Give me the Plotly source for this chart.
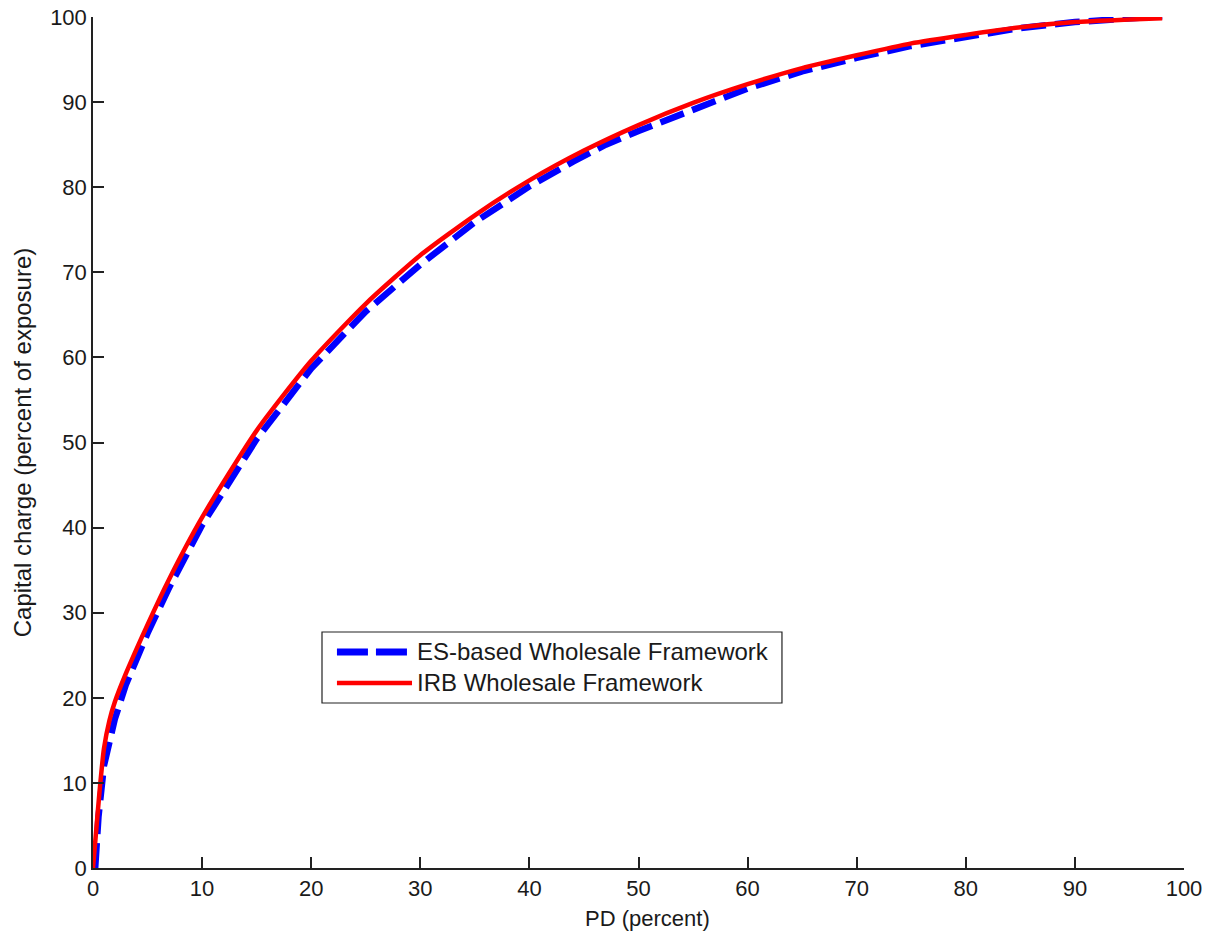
import plotly.graph_objects as go

# IRB Wholesale Framework (red, solid)
irb_pd = [0, 0.3, 0.6, 1, 1.5, 2, 3, 5, 7, 10, 15, 20, 25, 30, 35, 40, 45, 50,
          55, 60, 65, 70, 75, 80, 85, 90, 95, 98]
irb_cc = [0, 4.5, 9, 14, 17.3, 19.5, 22.8, 28.6, 34.0, 41.2, 51.4, 59.6, 66.3, 72.0,
          76.7, 80.8, 84.3, 87.3, 89.9, 92.1, 94.0, 95.5, 96.9, 97.9, 98.8, 99.4,
          99.7, 99.85]

# ES-based Wholesale Framework (blue, dashed)
es_pd = [0.2, 0.5, 1, 2, 3, 5, 7, 10, 15, 20, 25, 30, 35, 40, 44, 47, 50, 55,
         60, 65, 70, 75, 80, 85, 90, 95, 98]
es_cc = [0, 6, 12, 17.5, 21.5, 27.6, 33.0, 40.3, 50.4, 58.7, 65.4, 70.9, 75.9,
         80.1, 83.0, 85.0, 86.6, 89.2, 91.6, 93.6, 95.2, 96.6, 97.7, 98.7, 99.4,
         99.9, 100.1]

x_ticks = [0, 10, 20, 30, 40, 50, 60, 70, 80, 90, 100]
y_ticks = [0, 10, 20, 30, 40, 50, 60, 70, 80, 90, 100]

legend_names = ["ES-based Wholesale Framework", "IRB Wholesale Framework"]
x_title = "PD (percent)"
y_title = "Capital charge (percent of exposure)"

FONT = "Liberation Sans, Arial, sans-serif"
TXT = "#1a1a1a"
BLUE = "#0000ff"
RED = "#ff0000"

fig = go.Figure()
fig.add_trace(go.Scatter(x=es_pd, y=es_cc, mode="lines", name=legend_names[0],
                         line=dict(color=BLUE, width=6.5, dash="25px,9px"),
                         showlegend=False))
fig.add_trace(go.Scatter(x=irb_pd, y=irb_cc, mode="lines", name=legend_names[1],
                         line=dict(color=RED, width=4.5, shape="spline", smoothing=0.6),
                         showlegend=False))

axis_common = dict(
    showgrid=False, zeroline=False, showline=True, linecolor="#222", linewidth=1.5,
    ticks="inside", ticklen=11, tickwidth=1.5, tickcolor="#222",
    tickfont=dict(family=FONT, size=22, color=TXT),
    mirror=False, fixedrange=True,
)

fig.update_xaxes(range=[0, 100], tickvals=x_ticks, **axis_common)
fig.update_yaxes(range=[0, 100], tickvals=y_ticks, **axis_common,
                 title=dict(text=y_title,
                            font=dict(family=FONT, size=24, color=TXT), standoff=12))

# manual legend (paper coordinates)
lx0, lx1 = 0.2099, 0.6315
ly0, ly1 = 0.1939, 0.2773
shapes = [
    dict(type="rect", xref="paper", yref="paper", x0=lx0, x1=lx1, y0=ly0, y1=ly1,
         line=dict(color="#222", width=1.2), fillcolor="white", layer="above"),
    dict(type="line", xref="paper", yref="paper", x0=0.2236, x1=0.2878, y0=0.2538, y1=0.2538,
         line=dict(color=BLUE, width=7, dash="31px,8px"), layer="above"),
    dict(type="line", xref="paper", yref="paper", x0=0.2236, x1=0.2924, y0=0.2174, y1=0.2174,
         line=dict(color=RED, width=4.5), layer="above"),
]
annotations = [
    dict(xref="paper", yref="paper", x=0.2979, y=0.2545, text=legend_names[0],
         showarrow=False, xanchor="left", yanchor="middle", xshift=-3,
         font=dict(family=FONT, size=24, color=TXT)),
    dict(xref="paper", yref="paper", x=0.2979, y=0.2181, text=legend_names[1],
         showarrow=False, xanchor="left", yanchor="middle", xshift=-3,
         font=dict(family=FONT, size=24, color=TXT)),
    dict(xref="paper", yref="paper", x=0.5087, y=-0.0588, text=x_title,
         showarrow=False, xanchor="center", yanchor="middle",
         font=dict(family=FONT, size=22, color=TXT)),
]

fig.update_layout(
    width=1221, height=938,
    margin=dict(l=93, r=37, t=17, b=70, autoexpand=False),
    plot_bgcolor="white", paper_bgcolor="white",
    shapes=shapes, annotations=annotations,
    showlegend=False,
)

fig.write_html("out.html")
